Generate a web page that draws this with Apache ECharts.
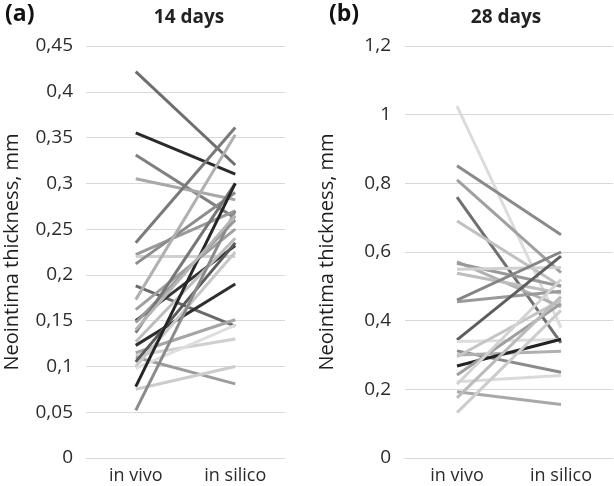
<!DOCTYPE html>
<html>
<head>
<meta charset="utf-8">
<script src="https://cdn.jsdelivr.net/npm/echarts@6/dist/echarts.min.js"></script>
<style>html,body{margin:0;padding:0;background:#fff;}#c{width:614px;height:486px;}</style>
</head>
<body>
<div id="c"></div>
<script>
const categories = ['in vivo', 'in silico'];
const yTicks14 = [0, 0.05, 0.1, 0.15, 0.2, 0.25, 0.3, 0.35, 0.4, 0.45];
const yTicks28 = [0, 0.2, 0.4, 0.6, 0.8, 1, 1.2];

// 14 days: in vivo and in silico thickness per specimen
const vivo14   = [0.422, 0.355, 0.331, 0.305, 0.235, 0.222, 0.220, 0.212, 0.188, 0.173, 0.162, 0.150, 0.148, 0.137, 0.127, 0.123, 0.115, 0.112, 0.110, 0.105, 0.100, 0.098, 0.078, 0.075, 0.052, 0.140];
const silico14 = [0.320, 0.310, 0.262, 0.282, 0.361, 0.270, 0.220, 0.290, 0.144, 0.353, 0.250, 0.232, 0.260, 0.300, 0.240, 0.190, 0.151, 0.130, 0.081, 0.235, 0.225, 0.145, 0.300, 0.100, 0.270, 0.265];
const shade14  = ['#6e6e6e','#2a2a2a','#808080','#a8a8a8','#7a7a7a','#999999','#d0d0d0','#8c8c8c','#6a6a6a','#b0b0b0','#a0a0a0','#333333','#9a9a9a','#777777','#bdbdbd','#2e2e2e','#a5a5a5','#cfcfcf','#9c9c9c','#5a5a5a','#c8c8c8','#dedede','#262626','#cccccc','#8a8a8a','#b5b5b5'];

// 28 days
const vivo28   = [1.025, 0.851, 0.810, 0.760, 0.690, 0.572, 0.567, 0.550, 0.538, 0.460, 0.455, 0.344, 0.339, 0.312, 0.300, 0.295, 0.268, 0.242, 0.222, 0.215, 0.193, 0.175, 0.132];
const silico28 = [0.380, 0.650, 0.540, 0.335, 0.500, 0.440, 0.500, 0.555, 0.480, 0.600, 0.486, 0.588, 0.345, 0.250, 0.311, 0.460, 0.346, 0.450, 0.240, 0.520, 0.156, 0.470, 0.430];
const shade28  = ['#dcdcdc','#8a8a8a','#a0a0a0','#707070','#c0c0c0','#b0b0b0','#999999','#d0d0d0','#bdbdbd','#858585','#9a9a9a','#5e5e5e','#dddddd','#8a8a8a','#b0b0b0','#c5c5c5','#222222','#9e9e9e','#dadada','#d2d2d2','#a8a8a8','#bbbbbb','#cccccc'];

const FONT = '"Open Sans", sans-serif';
const fmt = v => (+v.toFixed(2)).toString().replace('.', ',');

function mkSeries(vivo, silico, shades, idx) {
  return vivo.map((v, i) => ({
    type: 'line',
    xAxisIndex: idx, yAxisIndex: idx,
    data: [v, silico[i]],
    symbol: 'none',
    silent: true,
    lineStyle: { color: shades[i], width: 3 },
    itemStyle: { color: shades[i] }
  }));
}

const chart = echarts.init(document.getElementById('c'), null, { renderer: 'canvas' });
const xAxisBase = {
  type: 'category', data: categories, boundaryGap: true,
  axisLine: { show: true, lineStyle: { color: '#d9d9d9', width: 1 } },
  axisTick: { show: false },
  axisLabel: { color: '#2b2b2b', fontSize: 18, fontFamily: FONT, margin: 9 }
};
const yAxisBase = {
  type: 'value', min: 0,
  name: 'Neointima thickness, mm', nameLocation: 'middle',
  nameTextStyle: { color: '#1e1e1e', fontSize: 20, fontFamily: FONT },
  axisLine: { show: false }, axisTick: { show: false },
  splitLine: { lineStyle: { color: '#d9d9d9', width: 1 } },
  axisLabel: { color: '#2b2b2b', fontSize: 19, fontFamily: FONT, formatter: fmt }
};

chart.setOption({
  animation: false,
  backgroundColor: '#fff',
  title: [
    { text: '14 days', left: 184, top: 3, textAlign: 'center', textStyle: { fontSize: 19, fontWeight: 'bold', color: '#222', fontFamily: FONT } },
    { text: '28 days', left: 501, top: 3, textAlign: 'center', textStyle: { fontSize: 19, fontWeight: 'bold', color: '#222', fontFamily: FONT } },
    { text: '(a)', left: 0, top: -2, textStyle: { fontSize: 23, fontWeight: 'bold', color: '#111', fontFamily: FONT } },
    { text: '(b)', left: 324, top: -2, textStyle: { fontSize: 23, fontWeight: 'bold', color: '#111', fontFamily: FONT } }
  ],
  grid: [
    { left: 86, top: 46, width: 199, height: 412 },
    { left: 405, top: 46, width: 208, height: 412 }
  ],
  xAxis: [
    Object.assign({ gridIndex: 0 }, xAxisBase),
    Object.assign({ gridIndex: 1 }, xAxisBase)
  ],
  yAxis: [
    Object.assign({}, yAxisBase, { gridIndex: 0, max: yTicks14[yTicks14.length - 1], interval: yTicks14[1] - yTicks14[0], nameGap: 64, axisLabel: Object.assign({}, yAxisBase.axisLabel, { margin: 13 }) }),
    Object.assign({}, yAxisBase, { gridIndex: 1, max: yTicks28[yTicks28.length - 1], interval: yTicks28[1] - yTicks28[0], nameGap: 68, axisLabel: Object.assign({}, yAxisBase.axisLabel, { margin: 14 }) })
  ],
  series: mkSeries(vivo14, silico14, shade14, 0).concat(mkSeries(vivo28, silico28, shade28, 1))
});
</script>
</body>
</html>
